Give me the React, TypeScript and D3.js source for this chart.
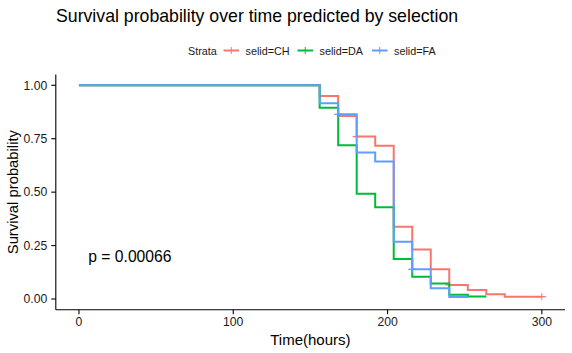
import React from "react";
import * as d3 from "d3";

const W = 572;
const H = 353;
const FONT = "'Liberation Sans', Arial, Helvetica, sans-serif";

// step times (hours) and survival estimates
const timesCH = [0, 156, 168, 180, 192, 204, 216, 228, 240, 252, 264, 276, 300];
const survCH = [1, 0.95, 0.856, 0.76, 0.717, 0.338, 0.232, 0.139, 0.066, 0.042, 0.022, 0.011, 0.011];
const timesDA = [0, 156, 168, 180, 192, 204, 216, 228, 240, 252, 264];
const survDA = [1, 0.895, 0.72, 0.493, 0.429, 0.187, 0.104, 0.073, 0.02, 0.012, 0.012];
const timesFA = [0, 156, 168, 180, 192, 204, 216, 228, 240, 252];
const survFA = [1, 0.916, 0.864, 0.685, 0.643, 0.268, 0.139, 0.05, 0.01, 0.01];

// censoring times
const censorCH = [180, 240, 300];
const censorDA: number[] = [];
const censorFA = [168, 216];

const strata = ["selid=CH", "selid=DA", "selid=FA"];
const colors = ["#F8766D", "#00BA38", "#619CFF"];
const xTicks = [0, 100, 200, 300];
const yTicks = [0, 0.25, 0.5, 0.75, 1];

const series = [
  { name: strata[0], times: timesCH, surv: survCH, censor: censorCH, color: colors[0] },
  { name: strata[1], times: timesDA, surv: survDA, censor: censorDA, color: colors[1] },
  { name: strata[2], times: timesFA, surv: survFA, censor: censorFA, color: colors[2] },
];

const x = d3.scaleLinear().domain([-15, 315]).range([55.8, 565]);
const y = d3.scaleLinear().domain([-0.05, 1.05]).range([309.7, 74.6]);

const line = d3
  .line<[number, number]>()
  .x((d) => x(d[0]))
  .y((d) => y(d[1]))
  .curve(d3.curveStepAfter);

function survAt(times: number[], surv: number[], t: number) {
  let v = surv[0];
  times.forEach((tt, i) => {
    if (tt <= t) v = surv[i];
  });
  return v;
}

export default function App() {
  const [x0, x1] = x.range();
  const [y0, y1] = y.range();
  const legendX = [223.5, 297.5, 372];
  return (
    <svg
      width={W}
      height={H}
      style={{ position: "absolute", left: 0, top: 0, background: "#fff" }}
      fontFamily={FONT}
    >
      <text x={56} y={21.5} fontSize={17.7} fill="#000">
        Survival probability over time predicted by selection
      </text>

      {/* legend */}
      <g fontSize={10.8} fill="#1a1a1a">
        <text x={188} y={54.5}>Strata</text>
        {series.map((s, i) => (
          <g key={s.name}>
            <line x1={legendX[i]} x2={legendX[i] + 15.5} y1={50.5} y2={50.5} stroke={s.color} strokeWidth={2} />
            <line x1={legendX[i] + 7.75} x2={legendX[i] + 7.75} y1={47} y2={54} stroke={s.color} strokeWidth={1} />
            <text x={legendX[i] + 22} y={54.5}>{s.name}</text>
          </g>
        ))}
      </g>

      {/* curves */}
      {series.map((s) => (
        <g key={s.name}>
          <path
            d={line(s.times.map((t, i) => [t, s.surv[i]] as [number, number])) || ""}
            fill="none"
            stroke={s.color}
            strokeWidth={2}
          />
          {s.censor.map((t) => {
            const cx = x(t);
            const cy = y(survAt(s.times, s.surv, t));
            return (
              <g key={t} stroke={s.color}>
                <line x1={cx - 4} x2={cx + 4} y1={cy} y2={cy} strokeWidth={1.3} />
                <line x1={cx} x2={cx} y1={cy - 3.5} y2={cy + 3.5} strokeWidth={1} />
              </g>
            );
          })}
        </g>
      ))}

      {/* axes */}
      <line x1={x0} x2={x0} y1={y1} y2={y0} stroke="#000" strokeWidth={1.1} />
      <line x1={x0} x2={x1} y1={y0} y2={y0} stroke="#000" strokeWidth={1.1} />
      {xTicks.map((t) => (
        <g key={t}>
          <line x1={x(t)} x2={x(t)} y1={y0} y2={y0 + 4.5} stroke="#000" strokeWidth={1.1} />
          <text x={x(t)} y={y0 + 16} fontSize={12.2} textAnchor="middle" fill="#1a1a1a">
            {t}
          </text>
        </g>
      ))}
      {yTicks.map((t) => (
        <g key={t}>
          <line x1={x0 - 4.5} x2={x0} y1={y(t)} y2={y(t)} stroke="#000" strokeWidth={1.1} />
          <text x={x0 - 8.5} y={y(t) + 4.3} fontSize={12.2} textAnchor="end" fill="#1a1a1a">
            {d3.format(".2f")(t)}
          </text>
        </g>
      ))}

      <text x={(x0 + x1) / 2} y={345} fontSize={15} textAnchor="middle" fill="#000">
        Time(hours)
      </text>
      <text
        transform={`translate(17.5,${(y0 + y1) / 2}) rotate(-90)`}
        fontSize={14.8}
        textAnchor="middle"
        fill="#000"
      >
        Survival probability
      </text>

      <text x={x(6)} y={y(0.2) + 5.5} fontSize={15.7} fill="#000">
        p = 0.00066
      </text>
    </svg>
  );
}
